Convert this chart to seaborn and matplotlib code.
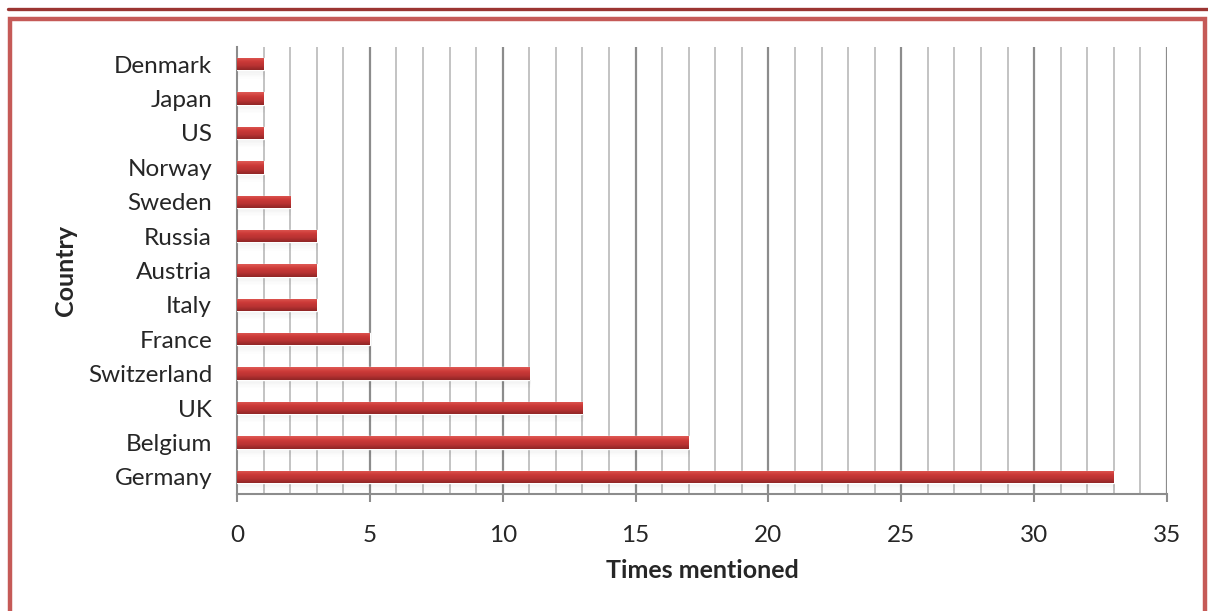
import numpy as np
import pandas as pd
import matplotlib
matplotlib.use('Agg')
import matplotlib.pyplot as plt
import seaborn as sns
from matplotlib.patches import Rectangle
from matplotlib.lines import Line2D

countries = ['Denmark', 'Japan', 'US', 'Norway', 'Sweden', 'Russia', 'Austria',
             'Italy', 'France', 'Switzerland', 'UK', 'Belgium', 'Germany']
mentions = [1, 1, 1, 1, 2, 3, 3, 3, 5, 11, 13, 17, 33]

data = pd.DataFrame({'Country': countries, 'Times mentioned': mentions})

sns.set_style('white')
plt.rcParams['font.family'] = ['Lato', 'DejaVu Sans']

W, H = 1208, 611
fig = plt.figure(figsize=(W / 100, H / 100), dpi=100)
ax = fig.add_axes([237 / W, 1 - 494 / H, 930 / W, 447 / H])

sns.barplot(data=data, x='Times mentioned', y='Country', orient='h',
            color='#c0393b', width=0.36, saturation=1, ax=ax, zorder=3)

# gradient + soft shadow on each bar
grad = np.linspace(0, 1, 64).reshape(-1, 1)
cmap = matplotlib.colors.LinearSegmentedColormap.from_list(
    'bar', ['#e05a55', '#cc3a38', '#b83232', '#8f2626'])
for p in list(ax.patches):
    x0, y0 = p.get_x(), p.get_y()
    w, h = p.get_width(), p.get_height()
    for k in range(6):
        ax.add_patch(Rectangle((x0 + 0.05, y0 + h + k * 0.04), w, 0.04,
                               facecolor='black', alpha=0.05 * (6 - k) / 6,
                               edgecolor='none', zorder=2))
    im = ax.imshow(grad, extent=(x0, x0 + w, y0 + h, y0), aspect='auto',
                   cmap=cmap, zorder=3.5, interpolation='bilinear')
    im.set_clip_path(p)

ax.set_xlim(0, 35)
ax.set_ylim(len(countries) - 0.5, -0.5)

ax.set_xticks(np.arange(0, 36, 5))
ax.set_xticks(np.arange(0, 36, 1), minor=True)
ax.grid(False)
for v in range(1, 36):
    major = v % 5 == 0
    ax.axvline(v, color='#8c8c8c' if major else '#c3c3c3',
               lw=1.6 if major else 1.4, zorder=1)

for s in ['top', 'right']:
    ax.spines[s].set_visible(False)
for s in ['left', 'bottom']:
    ax.spines[s].set_color('#8c8c8c')
    ax.spines[s].set_linewidth(1.5)

ax.tick_params(axis='x', which='major', length=6, width=1.5, color='#8c8c8c',
               labelsize=17.5, pad=16, direction='out', bottom=True)
ax.tick_params(axis='x', which='minor', length=0)
ax.tick_params(axis='y', length=0, labelsize=17.5, pad=18)

ax.set_xlabel('Times mentioned', fontsize=18, fontweight='bold', labelpad=10)
ax.set_ylabel('Country', fontsize=18, fontweight='bold', labelpad=8)

# decorative frame and top rule
fig.add_artist(Line2D([8 / W, 1], [1 - 9 / H, 1 - 9 / H], color='#9b3532', lw=2.4))
fig.add_artist(Rectangle((10 / W, -0.02), (W - 3) / W - 10 / W, 1 - 19 / H + 0.02,
                         fill=False, edgecolor='#c55a57', lw=3.2,
                         transform=fig.transFigure))

fig.savefig('out.png', dpi=100)
